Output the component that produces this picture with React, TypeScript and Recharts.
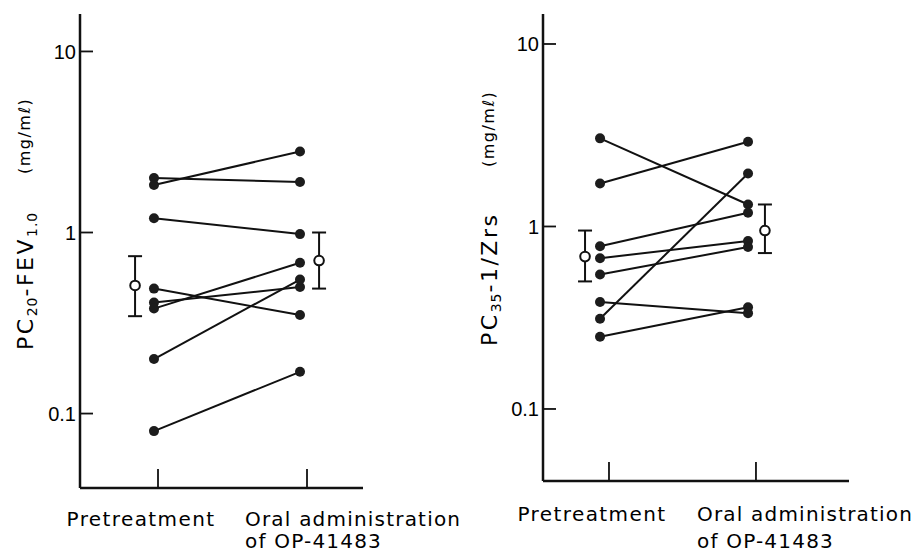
import React from 'react';
import { ComposedChart, Scatter, XAxis, YAxis, ErrorBar } from 'recharts';

// ---------- Data ----------
// Left panel: PC20-FEV1.0 (mg/mℓ), each subject pretreatment -> after OP-41483
const fevPre = [2.0, 1.83, 1.2, 0.49, 0.41, 0.38, 0.2, 0.08];
const fevPost = [1.9, 2.8, 0.98, 0.35, 0.5, 0.68, 0.55, 0.17];
const fevMean = [0.51, 0.7];
const fevLower = [0.345, 0.49];
const fevUpper = [0.74, 1.0];

// Right panel: PC35-1/Zrs (mg/mℓ)
const zrsPre = [3.04, 1.72, 0.78, 0.67, 0.545, 0.386, 0.312, 0.249];
const zrsPost = [1.32, 2.91, 1.19, 0.833, 0.772, 0.335, 1.95, 0.361];
const zrsMean = [0.684, 0.95];
const zrsLower = [0.5, 0.715];
const zrsUpper = [0.95, 1.32];

const yTicks = [0.1, 1, 10];
const xTicks = [1, 2];
const xLabels = ['Pretreatment', 'Oral administration'];
const xSubLabels = ['', 'of OP-41483'];

const FONT = '"DejaVu Sans", "Noto Sans", sans-serif';
const NUM_FONT = '"Liberation Sans", Arial, sans-serif';
const INK = '#111';

const Dot = (p: any) => <circle cx={p.cx} cy={p.cy} r={5} fill="#1c1c1c" />;
const OpenDot = (p: any) => (
  <circle cx={p.cx} cy={p.cy} r={4.8} fill="#fff" stroke={INK} strokeWidth={2} />
);

const YTick = (p: any) => {
  const { x, y, payload } = p;
  return (
    <g>
      <line x1={x} y1={y} x2={x + 13} y2={y} stroke={INK} strokeWidth={1.8} />
      <text x={x - 4} y={y} dy="0.36em" textAnchor="end" fontFamily={NUM_FONT} fontSize={20} fill="#000">
        {String(payload.value)}
      </text>
    </g>
  );
};

const makeXTick = (preOff: number, postOff: number, base1: number, gap: number) => (p: any) => {
  const { x, y, payload } = p;
  const idx = payload.value - 1;
  return (
    <g>
      <line x1={x} y1={y} x2={x} y2={y - 19} stroke={INK} strokeWidth={1.8} />
      {idx === 0 ? (
        <text x={x + preOff} y={y + base1} textAnchor="middle" fontFamily={FONT} fontSize={20} letterSpacing={1.4} fill="#000">
          {xLabels[0]}
        </text>
      ) : (
        <text x={x + postOff} y={y + base1} textAnchor="start" fontFamily={FONT} fontSize={20} letterSpacing={1.2} fill="#000">
          {xLabels[1]}
          <tspan x={x + postOff} dy={gap}>{xSubLabels[1]}</tspan>
        </text>
      )}
    </g>
  );
};

type Part = [string, boolean];
const YTitle = (p: any) => {
  const { bx, by, parts, ux, uy } = p;
  return (
    <g>
      <text transform={`rotate(-90 ${bx} ${by})`} x={bx} y={by} fontFamily={FONT} fontSize={22} letterSpacing={2.5} fill="#000">
        {(parts as Part[]).map(([t, sub], i) => (
          <tspan key={i} fontSize={sub ? 14 : 22} dy={sub ? 4 : i > 0 ? -4 : 0} letterSpacing={sub ? 1 : 2.5}>
            {t}
          </tspan>
        ))}
      </text>
      <text transform={`rotate(-90 ${ux} ${uy})`} x={ux} y={uy} fontFamily={FONT} fontSize={16} letterSpacing={1.5} fill="#000">
        (mg/mℓ)
      </text>
    </g>
  );
};

type PanelProps = {
  left: number;
  width: number;
  height: number;
  margin: { top: number; right: number; bottom: number; left: number };
  yAxisWidth: number;
  xAxisHeight: number;
  xDomain: [number, number];
  yDomain: [number, number];
  preX: number;
  postX: number;
  errX: [number, number];
  pre: number[];
  post: number[];
  mean: number[];
  lower: number[];
  upper: number[];
  title: any;
  preOff: number;
  postOff: number;
  base1: number;
  gap: number;
};

const Panel = (props: PanelProps) => {
  const means = props.mean.map((m, i) => ({
    x: props.errX[i],
    y: m,
    err: [m - props.lower[i], props.upper[i] - m],
  }));
  const XTick = makeXTick(props.preOff, props.postOff, props.base1, props.gap);
  return (
    <div style={{ position: 'absolute', left: props.left, top: 0, width: props.width, height: props.height }}>
      <ComposedChart width={props.width} height={props.height} margin={props.margin}>
        <XAxis
          type="number"
          dataKey="x"
          domain={props.xDomain}
          ticks={xTicks}
          allowDataOverflow
          interval={0}
          height={props.xAxisHeight}
          tickSize={0}
          tickMargin={0}
          tickLine={false}
          tick={XTick}
          axisLine={{ stroke: INK, strokeWidth: 2.5 }}
        />
        <YAxis
          type="number"
          dataKey="y"
          scale="log"
          domain={props.yDomain}
          ticks={yTicks}
          allowDataOverflow
          interval={0}
          width={props.yAxisWidth}
          tickSize={0}
          tickMargin={0}
          tickLine={false}
          tick={YTick}
          axisLine={{ stroke: INK, strokeWidth: 2.5 }}
          label={props.title}
        />
        {props.pre.map((v, i) => (
          <Scatter
            key={i}
            data={[
              { x: props.preX, y: v },
              { x: props.postX, y: props.post[i] },
            ]}
            line={{ stroke: INK, strokeWidth: 2 }}
            shape={Dot}
            isAnimationActive={false}
          />
        ))}
        <Scatter data={means} shape={OpenDot} isAnimationActive={false}>
          <ErrorBar dataKey="err" direction="y" width={7} stroke={INK} strokeWidth={2} isAnimationActive={false} />
        </Scatter>
      </ComposedChart>
    </div>
  );
};

export default function App() {
  return (
    <div style={{ position: 'absolute', left: 0, top: 0, width: 921, height: 554, background: '#fff' }}>
      <Panel
        left={0}
        width={460}
        height={554}
        margin={{ top: 14, right: 97, bottom: 0, left: 0 }}
        yAxisWidth={80}
        xAxisHeight={66}
        xDomain={[0.4765, 2.3758]}
        yDomain={[0.0388, 16.1]}
        preX={0.973}
        postX={1.953}
        errX={[0.846, 2.081]}
        pre={fevPre}
        post={fevPost}
        mean={fevMean}
        lower={fevLower}
        upper={fevUpper}
        preOff={-17}
        postOff={-62}
        base1={38}
        gap={22}
        title={
          <YTitle
            bx={33}
            by={350}
            parts={[
              ['PC', false],
              ['20', true],
              ['-FEV', false],
              ['1.0', true],
            ]}
            ux={30}
            uy={174}
          />
        }
      />
      <Panel
        left={460}
        width={461}
        height={554}
        margin={{ top: 14, right: 72, bottom: 0, left: 0 }}
        yAxisWidth={83}
        xAxisHeight={73}
        xDomain={[0.551, 2.633]}
        yDomain={[0.0403, 14.6]}
        preX={0.939}
        postX={1.946}
        errX={[0.837, 2.061]}
        pre={zrsPre}
        post={zrsPost}
        mean={zrsMean}
        lower={zrsLower}
        upper={zrsUpper}
        preOff={-17}
        postOff={-59}
        base1={40}
        gap={27}
        title={
          <YTitle
            bx={37}
            by={346}
            parts={[
              ['PC', false],
              ['35', true],
              ['-1/Zrs', false],
            ]}
            ux={34}
            uy={167}
          />
        }
      />
    </div>
  );
}
